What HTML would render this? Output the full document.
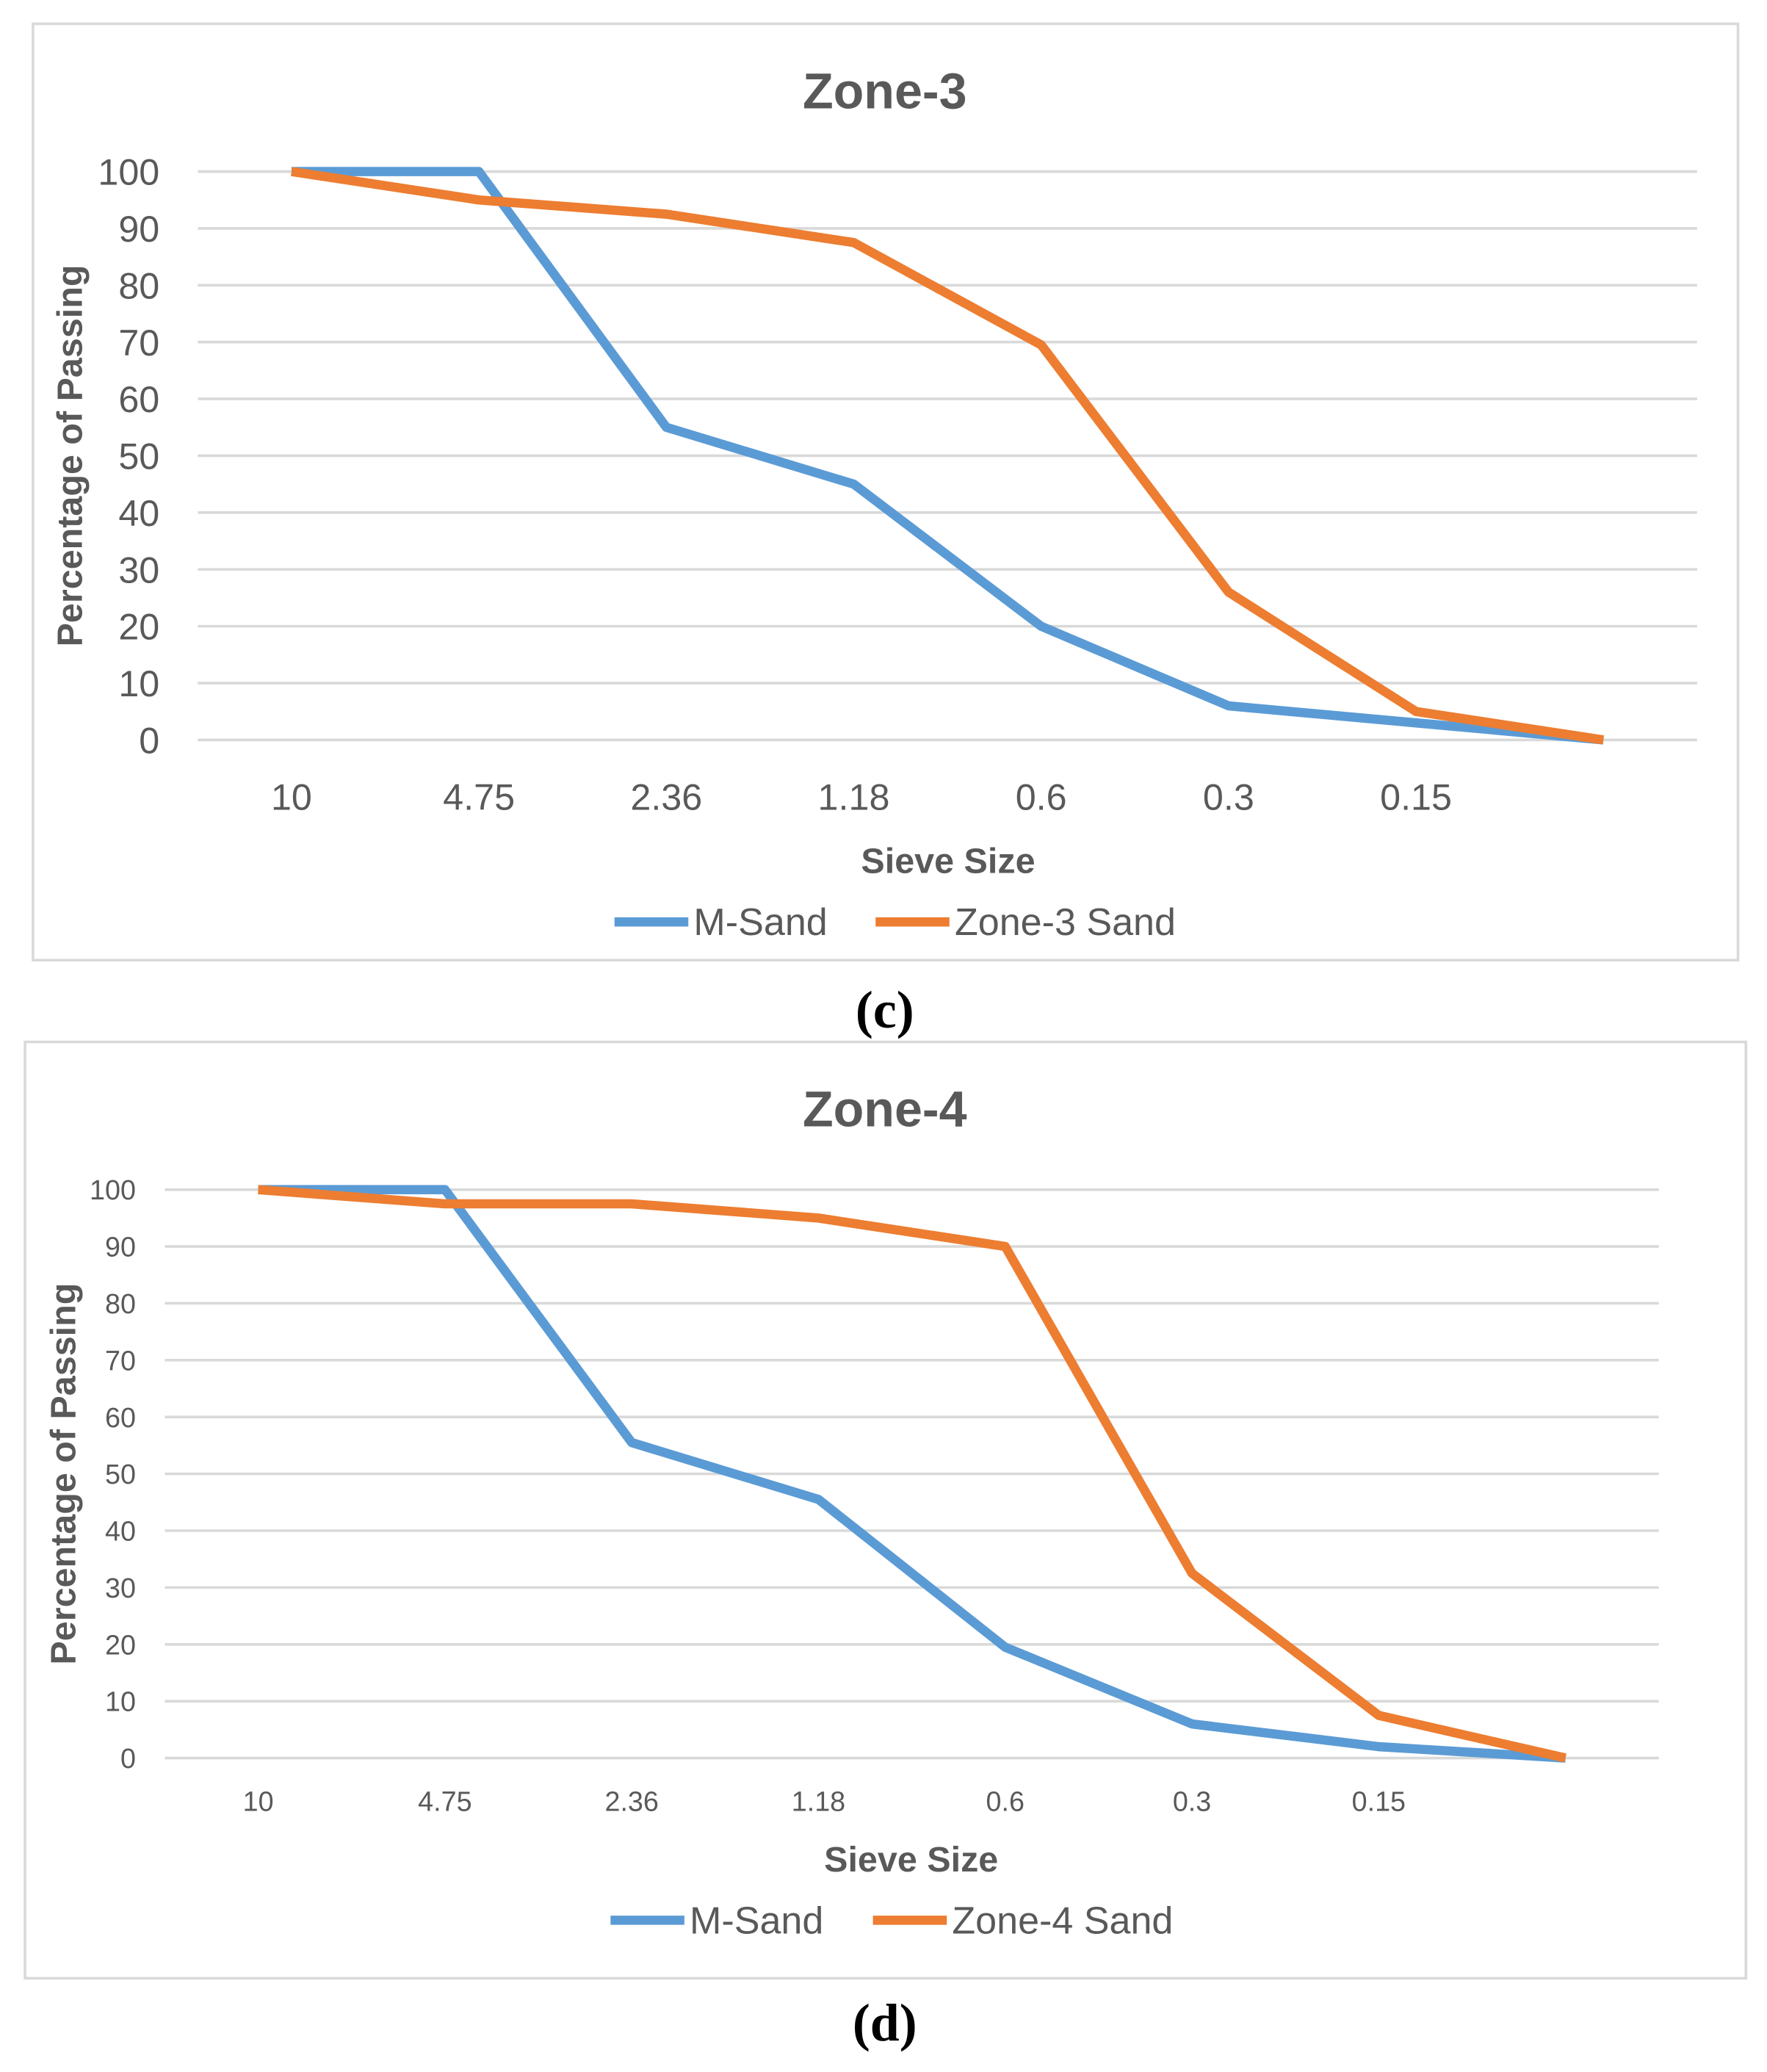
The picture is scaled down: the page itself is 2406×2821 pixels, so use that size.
<!DOCTYPE html>
<html><head><meta charset="utf-8"><style>
html,body{margin:0;padding:0;background:#fff;}
svg{display:block;}
text{font-family:"Liberation Sans",sans-serif;fill:#595959;}
</style></head><body>
<svg id="fig" width="2406" height="2821" viewBox="0 0 1340 1571" xmlns="http://www.w3.org/2000/svg"></svg>
<script>
const categories = ["10","4.75","2.36","1.18","0.6","0.3","0.15",""];
const yTicks = [0,10,20,30,40,50,60,70,80,90,100];
const mSandC = [100,100,55,45,20,6,3,0];
const zone3 = [100,95,92.5,87.5,69.5,26,5,0];
const mSandD = [100,100,55.5,45.5,19.5,6,2,0];
const zone4 = [100,97.5,97.5,95,90,32.5,7.5,0];

const NS="http://www.w3.org/2000/svg";
const svg=document.getElementById('fig');
function mk(tag,attrs,parent){const e=document.createElementNS(NS,tag);for(const k in attrs)e.setAttribute(k,attrs[k]);(parent||svg).appendChild(e);return e;}
function txt(s,attrs,parent){const e=mk('text',attrs,parent);e.textContent=s;return e;}

function chart(cfg){
  const g=mk('g',{});
  
  
  const fr=mk('rect',{x:cfg.fx,y:cfg.fy,width:cfg.fw,height:cfg.fh,fill:'#fff',stroke:'#d9d9d9','stroke-width':2},g);
  
  
  const t=txt(cfg.title,{x:cfg.titleX,y:cfg.titleY,'text-anchor':'middle','font-size':38,'font-weight':'bold'},g);
  
  
  const xs=i=>cfg.px0+(cfg.px1-cfg.px0)/categories.length*(i+0.5);
  const ys=v=>cfg.y0-(cfg.y0-cfg.y100)*v/100;
  yTicks.forEach(v=>{
    const l=mk('line',{x1:cfg.px0,x2:cfg.px1,y1:ys(v),y2:ys(v),stroke:'#d9d9d9','stroke-width':2},g);
    
    
    const tl=txt(String(v),{x:cfg.tickX,y:ys(v)+cfg.tfs*0.36,'text-anchor':'end','font-size':cfg.tfs},g);
    
    
  });
  categories.forEach((c,i)=>{
    const tl=txt(c,{x:xs(i),y:cfg.xLabY,'text-anchor':'middle','font-size':cfg.tfs},g);
    
    
  });
  const yt=txt('Percentage of Passing',{x:0,y:0,'text-anchor':'middle','font-size':27,'font-weight':'bold',transform:`translate(${cfg.yTitleX},${(cfg.y0+cfg.y100)/2}) rotate(-90)`},g);
  
  
  const xt=txt('Sieve Size',{x:cfg.xTitleX,y:cfg.xTitleY,'text-anchor':'middle','font-size':27,'font-weight':'bold'},g);
  
  
  [[cfg.s1,'#5b9bd5','m-sand-line'],[cfg.s2,'#ed7d31','zone-sand-line']].forEach(([d,col,n])=>{
    const p=mk('polyline',{points:d.map((v,i)=>xs(i)+','+ys(v)).join(' '),fill:'none',stroke:col,'stroke-width':7,'stroke-linejoin':'round'},g);
    
    
  });
  const lg=mk('g',{},g);
  
  
  [[cfg.lx1,'#5b9bd5','M-Sand'],[cfg.lx2,'#ed7d31',cfg.s2name]].forEach(([x,col,n])=>{
    const e=mk('g',{},lg);
    
    
    mk('line',{x1:x,x2:x+56,y1:cfg.ly,y2:cfg.ly,stroke:col,'stroke-width':7},e);
    txt(n,{x:x+60,y:cfg.ly+10,'font-size':29},e);
  });
  const cap=txt(cfg.cap,{x:671,y:cfg.capY,'text-anchor':'middle','font-size':40,'font-weight':'bold'},svg);
  cap.style.fontFamily='"Liberation Serif",serif';cap.style.fill='#000';
  
  
}
chart({name:'chart-zone-3',fx:25,fy:18,fw:1293,fh:710,title:'Zone-3',titleX:671,titleY:82,px0:150,px1:1287,y0:561,y100:130,tickX:121,tfs:28,xLabY:614,yTitleX:62,xTitleX:719,xTitleY:662,s1:mSandC,s2:zone3,s2name:'Zone-3 Sand',lx1:466,lx2:664,ly:699,cap:'(c)',capY:779});
chart({name:'chart-zone-4',fx:19,fy:790,fw:1305,fh:710,title:'Zone-4',titleX:671,titleY:854,px0:125,px1:1258,y0:1333,y100:902,tickX:103,tfs:21,xLabY:1373,yTitleX:57,xTitleX:691,xTitleY:1419,s1:mSandD,s2:zone4,s2name:'Zone-4 Sand',lx1:463,lx2:662,ly:1456,cap:'(d)',capY:1547});
</script>
</body></html>
